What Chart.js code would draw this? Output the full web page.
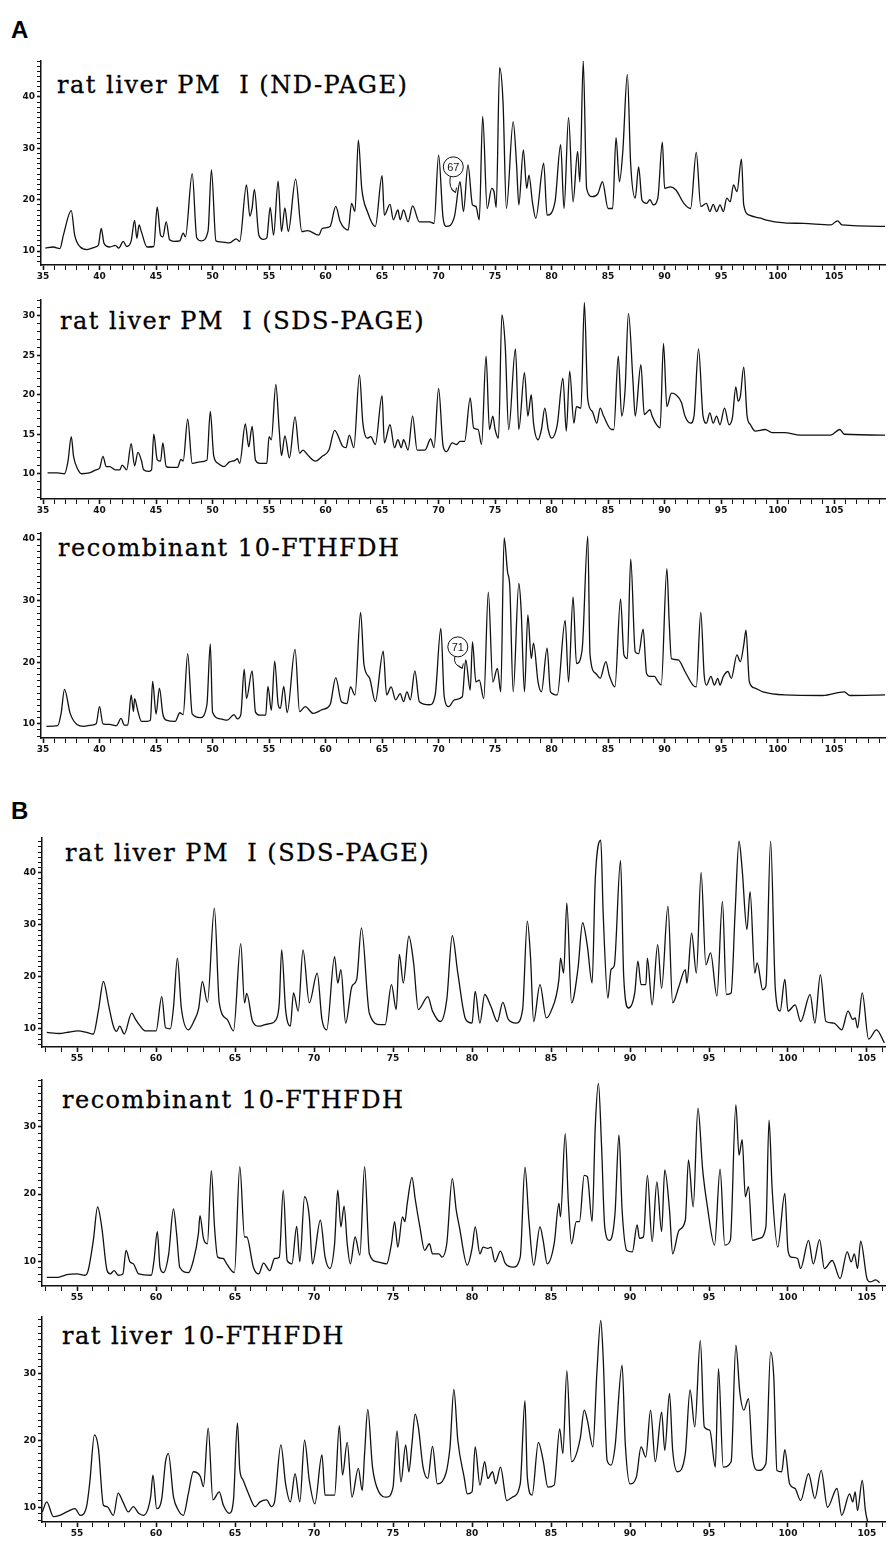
<!DOCTYPE html>
<html>
<head>
<meta charset="utf-8">
<script src="https://cdn.jsdelivr.net/npm/chart.js@4.4.0/dist/chart.umd.min.js"></script>
<style>
  body { margin: 0; background: #fff; width: 888px; height: 1544px; position: relative; overflow: hidden; }
  canvas { position: absolute; left: 0; }
  .tag { position: absolute; left: 11px; font: bold 24px "Liberation Sans", Arial, sans-serif; line-height: 1; }
  .title { position: absolute; font: 24px "DejaVu Serif", serif; letter-spacing: 1.5px; white-space: pre; line-height: 1; color: #000; -webkit-text-stroke: 0.3px #000; }
</style>
</head>
<body>
<div class="tag" style="top:18px">A</div>
<div class="tag" style="top:799px">B</div>

<div class="title" style="left:57px;top:73px">rat liver PM  I (ND-PAGE)</div>
<div class="title" style="left:60px;top:309px">rat liver PM  I (SDS-PAGE)</div>
<div class="title" style="left:58px;top:536px">recombinant 10-FTHFDH</div>
<div class="title" style="left:65px;top:841px">rat liver PM  I (SDS-PAGE)</div>
<div class="title" style="left:62px;top:1088px">recombinant 10-FTHFDH</div>
<div class="title" style="left:62px;top:1324px">rat liver 10-FTHFDH</div>

<canvas id="a1" width="888" height="236" style="top:53px"></canvas>
<canvas id="a2" width="888" height="231" style="top:292px"></canvas>
<canvas id="a3" width="888" height="237" style="top:525px"></canvas>
<canvas id="b1" width="888" height="241" style="top:830px"></canvas>
<canvas id="b2" width="888" height="238" style="top:1072px"></canvas>
<canvas id="b3" width="888" height="237" style="top:1309px"></canvas>

<script>
// A: rat liver PM I (ND-PAGE)
const a1X = [35.2,35.9,36.5,36.8,37.5,37.8,38.3,38.9,39.6,39.9,40.15,40.4,40.9,41.4,41.7,42.1,42.4,42.8,43.1,43.3,43.5,43.7,44.2,44.8,45.1,45.4,45.6,45.9,46.2,46.6,47.1,47.4,47.6,48.2,48.6,49.0,49.6,49.9,50.3,50.7,51.5,52.1,52.4,53.0,53.3,53.5,53.7,54.1,54.5,54.8,55.1,55.4,55.8,56.1,56.4,56.7,57.35,57.9,58.4,59.4,59.7,60.4,60.9,61.3,62.0,62.3,62.6,62.9,63.2,63.7,64.4,65.0,65.2,65.7,66.0,66.4,66.6,66.9,67.3,67.7,68.3,69.2,69.6,70.0,70.4,70.7,71.4,71.9,72.2,72.6,73.0,73.3,73.6,73.9,74.3,74.7,74.9,75.1,75.4,75.7,76.0,76.6,76.9,77.1,77.5,77.8,78.0,78.3,78.6,79.3,79.6,80.3,80.8,81.1,81.5,81.9,82.3,82.5,82.8,83.1,83.6,84.1,84.5,85.0,85.4,85.7,86.0,86.3,86.7,87.0,87.4,87.7,88.0,88.4,88.7,89.0,89.4,89.8,90.0,90.5,91.0,91.7,92.3,92.8,93.2,93.7,94.0,94.3,94.6,94.9,95.2,95.5,95.8,96.1,96.4,96.8,97.0,97.5,98.5,98.9,100.6,102.3,104.7,105.3,105.7,109.5];
const a1Y = [10.6,10.8,10.5,13.1,17.9,13.1,10.8,10.3,10.8,11.2,14.4,11.5,10.8,11.1,10.6,11.9,10.9,12.0,16.0,12.5,15.1,13.8,10.8,10.9,18.6,13.1,12.8,15.7,12.2,11.9,12.0,13.5,12.8,25.1,12.6,12.0,13.9,25.8,12.0,11.8,11.6,12.4,11.9,22.9,16.8,18.4,22.0,13.1,12.3,12.6,18.5,13.1,23.6,13.8,18.4,13.8,24.0,13.8,14.0,13.1,14.4,14.8,18.7,15.7,14.1,19.3,17.7,31.6,22.2,17.7,14.8,24.7,17.0,19.1,16.1,18.0,16.1,18.0,15.7,18.8,15.7,15.7,15.4,28.7,16.4,14.8,16.7,23.5,17.7,26.8,19.0,18.7,16.1,36.2,18.3,22.2,21.6,18.5,45.7,39.1,18.3,35.2,26.8,19.0,29.7,22.2,24.8,19.6,16.4,27.1,17.0,19.6,30.7,18.3,36.0,19.6,29.4,23.5,47.0,22.2,20.6,21.2,23.5,18.3,18.3,32.1,23.5,29.4,44.4,26.8,20.3,26.4,19.9,19.3,20.0,19.0,20.3,31.2,22.2,22.5,21.9,19.3,18.3,29.2,18.7,19.3,17.7,19.1,17.7,19.0,17.7,20.3,19.6,22.9,21.6,27.9,19.0,17.0,16.4,16.1,15.5,15.4,15.1,15.9,15.1,14.8];

// A: rat liver PM I (SDS-PAGE)
const a2X = [35.4,36.3,36.9,37.2,37.5,37.7,38.1,38.4,39.1,39.7,40.0,40.3,40.6,40.9,41.4,41.8,42.0,42.4,42.8,43.1,43.4,43.7,43.9,44.3,44.6,44.8,45.1,45.4,45.6,45.9,46.3,46.9,47.2,47.4,47.8,48.2,48.9,49.5,49.8,50.1,50.5,51.0,51.5,52.0,52.2,52.4,52.9,53.2,53.5,53.8,54.2,54.8,55.0,55.2,55.6,55.9,56.1,56.4,56.8,57.3,57.7,58.0,58.4,59.1,59.7,60.3,60.8,61.5,61.8,62.1,62.5,63.0,63.3,63.7,64.0,64.4,65.0,65.2,65.7,66.1,66.4,66.7,66.9,67.3,67.7,68.1,68.8,69.3,69.6,70.0,70.4,70.7,71.2,71.6,71.9,72.3,72.8,73.1,73.5,73.8,74.2,74.5,74.8,75.0,75.3,75.6,75.9,76.2,76.8,77.1,77.6,77.9,78.2,78.4,78.8,79.1,79.4,79.7,80.0,80.5,81.0,81.3,81.6,81.97,82.2,82.6,82.9,83.2,83.6,84.0,84.3,84.6,85.3,85.5,85.9,86.2,86.5,86.8,87.2,87.4,87.9,88.2,88.7,88.9,89.2,89.6,89.9,90.2,90.6,91.0,91.5,91.8,92.3,92.6,93.0,93.4,93.7,94.0,94.3,94.6,94.9,95.3,95.7,96.0,96.3,96.5,96.7,97.0,97.3,97.6,98.0,98.9,99.5,100.6,102.0,104.7,105.5,105.9,109.5];
const a2Y = [10.1,10.1,10.0,11.5,14.7,12.2,10.5,10.0,10.1,10.5,10.7,12.2,10.9,10.9,10.5,10.5,11.1,10.5,13.8,11.0,12.7,11.7,10.5,10.3,10.5,15.0,11.8,11.6,13.9,10.9,10.8,10.8,11.8,11.6,16.9,11.3,11.5,11.7,17.9,12.3,11.3,10.9,11.5,11.7,11.9,11.3,16.3,13.4,16.0,11.7,11.3,11.3,14.7,14.3,21.3,15.5,12.3,14.8,12.0,17.2,12.6,13.0,12.4,11.6,12.2,13.0,15.5,13.5,13.3,14.9,13.3,22.5,16.4,14.5,14.7,13.7,19.9,13.9,16.2,13.3,14.3,13.3,14.3,13.0,17.3,13.0,13.0,14.4,13.3,20.8,13.5,12.8,13.9,13.7,14.1,14.1,19.6,15.8,15.6,13.7,24.9,15.6,17.3,15.6,14.5,30.1,26.1,15.6,25.8,15.6,22.8,17.3,20.0,16.4,14.3,15.6,18.3,15.6,14.5,16.2,22.1,15.4,23.0,16.4,18.5,18.3,31.7,19.4,17.9,16.4,18.3,17.3,15.6,15.6,24.9,17.3,20.6,30.3,21.7,17.3,23.8,17.5,18.1,17.3,16.4,15.8,26.5,18.5,20.2,20.0,19.0,17.3,16.4,17.3,25.8,17.3,16.4,17.7,16.4,17.3,16.2,18.3,16.2,17.1,21.0,19.2,19.8,23.5,17.3,16.2,15.4,15.6,15.2,15.2,14.9,14.9,15.6,15.0,14.9];

// A: recombinant 10-FTHFDH
const a3X = [35.3,36.3,36.6,36.9,37.4,38.0,38.6,39.3,39.7,40.0,40.3,40.9,41.5,41.9,42.2,42.5,42.8,43.0,43.1,43.4,43.7,44.2,44.5,44.7,45.0,45.3,45.6,45.9,46.7,47.1,47.4,47.8,48.2,48.9,49.5,49.8,50.0,50.7,51.3,51.9,52.2,52.5,52.8,53.0,53.5,53.8,54.2,54.7,54.9,55.2,55.5,55.8,56.0,56.3,56.6,57.3,57.7,58.2,58.9,59.7,60.4,60.9,61.4,61.9,62.2,62.6,63.1,63.4,63.9,64.4,65.1,65.4,65.8,66.2,66.6,66.9,67.2,67.5,67.9,68.3,69.2,69.7,70.2,70.5,70.9,71.4,72.1,72.4,72.8,73.0,73.3,73.6,74.0,74.4,74.8,75.2,75.5,75.8,76.1,76.3,76.6,77.1,77.3,77.6,77.9,78.2,78.4,78.8,79.1,79.6,79.9,80.5,81.2,81.5,81.9,82.2,82.7,83.2,83.4,83.9,84.3,84.8,85.1,85.6,86.1,86.4,86.7,87.0,87.4,87.7,88.1,88.4,88.7,89.1,89.4,89.7,90.2,90.4,90.6,91.2,91.8,92.5,92.8,93.2,93.5,93.7,94.1,94.4,94.7,94.9,95.2,95.6,95.9,96.4,96.7,97.0,97.2,97.5,98.0,98.7,100.6,104.0,105.9,106.4,109.5];
const a3Y = [9.6,9.7,11.7,15.6,11.7,9.9,9.6,9.8,10.0,12.8,10.0,9.9,9.7,10.9,9.8,9.8,14.7,12.0,14.1,12.0,10.4,10.4,10.6,16.9,11.6,15.8,11.6,10.6,10.4,11.8,11.5,21.4,11.6,11.0,13.1,23.0,11.9,10.8,10.6,11.5,10.8,11.5,18.9,14.1,18.6,11.9,11.4,11.4,16.1,12.2,20.2,13.2,12.5,16.1,11.8,22.1,12.0,12.8,11.7,12.3,13.1,17.5,13.6,13.3,16.0,14.7,28.1,19.6,17.4,13.6,21.8,14.7,16.0,13.9,14.9,13.6,15.2,13.9,18.6,13.6,13.1,14.7,25.5,14.4,12.8,13.9,14.4,20.4,15.5,23.3,16.8,17.1,14.1,31.4,16.8,19.0,15.2,40.2,34.7,32.3,15.2,32.8,28.7,15.2,27.7,20.6,23.1,16.8,15.2,22.3,15.2,14.7,26.8,16.8,30.6,19.8,22.0,40.5,21.2,18.2,17.4,20.1,17.9,16.0,30.3,21.2,20.6,36.8,21.7,21.4,25.4,18.2,17.7,17.7,16.9,16.3,35.2,26.8,20.6,20.4,18.5,16.3,16.0,28.1,17.9,16.3,17.7,16.3,17.4,16.3,17.7,18.5,17.4,21.2,20.1,22.8,25.2,16.8,15.8,15.2,14.7,14.6,15.2,14.6,14.7];

// B: rat liver PM I (SDS-PAGE)
const b1X = [53.08,53.9,54.35,55.08,55.6,56.03,56.35,56.67,57.0,57.3,57.5,57.7,57.98,58.46,58.7,59.0,59.3,60.0,60.36,60.6,60.9,61.1,61.35,61.6,62.05,62.4,62.7,62.93,63.25,63.69,64.0,64.5,64.9,65.36,65.6,65.74,66.1,66.5,66.9,67.2,67.6,67.8,67.95,68.2,68.5,68.7,69.0,69.3,69.7,70.2,70.5,70.8,71.3,71.5,71.7,72.0,72.4,72.7,73.0,73.5,74.2,74.5,74.9,75.2,75.4,75.65,76.0,76.3,76.6,77.2,77.5,78.0,78.4,78.75,79.1,79.6,80.0,80.2,80.5,80.8,81.2,81.6,81.95,82.3,82.8,83.2,83.5,83.7,83.9,84.3,84.7,85.0,85.5,85.6,85.8,86.0,86.3,86.7,87.0,87.3,87.6,87.8,88.15,88.3,88.6,88.8,89.0,89.4,89.6,89.9,90.3,90.5,90.7,91.0,91.1,91.4,91.75,92.0,92.4,92.7,93.1,93.5,93.6,93.9,94.2,94.5,94.8,95.1,95.5,95.85,96.1,96.4,96.65,96.9,97.1,97.4,97.6,97.9,98.05,98.4,98.6,98.9,99.2,99.5,99.8,100.0,100.45,100.8,101.4,101.7,102.05,102.4,102.9,103.4,103.8,104.1,104.25,104.4,104.7,105.1,105.6,106.1];
const b1Y = [9.3,9.1,9.3,9.6,9.3,9.0,13.5,19.1,14.5,10.5,9.5,10.5,9.0,13.0,11.8,10.5,9.6,9.6,16.2,10.2,10.0,14.0,23.6,14.0,9.8,11.5,14.0,19.1,15.1,33.2,15.0,11.8,9.6,26.4,15.0,16.8,11.5,10.5,10.8,11.0,11.8,15.0,25.2,13.7,10.5,16.9,13.4,25.2,15.0,20.7,11.8,9.8,23.9,18.8,21.4,11.1,18.2,19.5,29.4,13.0,10.8,10.8,18.5,13.7,24.3,18.8,27.8,22.7,13.7,16.2,13.4,11.4,15.6,27.9,20.7,11.8,11.1,17.2,11.1,16.6,14.3,11.4,15.1,11.8,11.1,13.7,30.7,23.9,11.4,18.5,12.1,13.4,19.5,23.6,20.7,34.2,15.0,21.4,30.4,25.9,18.8,38.7,46.3,32.3,15.9,21.4,22.1,42.4,20.1,14.0,16.9,23.0,18.5,18.5,23.6,14.6,26.2,17.8,33.6,15.0,18.2,21.4,18.8,28.4,20.7,40.1,22.3,24.6,16.3,34.5,16.6,16.9,32.3,46.1,40.6,29.1,36.4,20.7,22.7,17.5,18.2,46.1,17.5,13.4,19.5,13.4,14.6,11.4,16.6,11.1,20.4,11.4,11.1,9.8,13.4,11.8,12.1,10.2,16.9,8.0,9.8,7.3];

// B: recombinant 10-FTHFDH
const b2X = [53.08,53.8,54.35,55.0,55.5,55.7,56.03,56.3,56.56,56.9,57.1,57.35,57.6,57.9,58.1,58.35,58.57,58.9,59.7,59.87,60.08,60.25,60.46,60.8,61.1,61.3,61.5,62.05,62.36,62.68,62.78,63.0,63.25,63.5,63.7,63.9,64.26,64.47,64.96,65.3,65.6,65.74,66.16,66.5,66.8,67.2,67.5,67.8,68.05,68.3,68.6,68.9,69.1,69.4,69.7,69.9,70.4,70.7,71.0,71.3,71.5,71.7,71.9,72.1,72.3,72.6,72.9,73.2,73.5,74.0,74.6,74.9,75.1,75.3,75.6,75.75,75.9,76.2,76.4,76.7,77.0,77.3,77.5,77.9,78.1,78.4,78.75,79.0,79.2,79.7,80.0,80.2,80.5,80.7,81.0,81.2,81.45,81.8,82.1,82.6,83.05,83.35,83.6,83.9,84.3,84.5,84.76,85.2,85.5,85.6,85.9,86.1,86.3,86.6,86.8,87.1,87.3,87.6,87.8,88.0,88.2,88.4,88.7,89.05,89.3,89.5,89.8,90.15,90.45,90.6,90.85,91.1,91.4,91.7,92.0,92.2,92.5,92.7,93.1,93.5,93.7,94.0,94.3,94.6,94.9,95.35,95.7,96.0,96.35,96.7,96.9,97.1,97.3,97.5,97.75,98.2,98.6,98.8,99.0,99.35,99.8,100.0,100.2,100.6,100.8,101.3,101.6,102.0,102.3,102.8,103.3,103.75,104.0,104.2,104.4,104.6,105.0,105.2,105.55,105.8];
const b2Y = [7.6,7.6,8.0,8.1,7.9,8.6,13.1,18.1,15.1,8.6,8.1,8.6,7.9,8.1,11.6,9.9,9.6,8.1,7.9,10.1,14.4,9.1,8.3,11.1,17.8,14.1,9.1,8.3,10.1,14.1,16.8,13.4,12.6,23.5,15.1,10.6,10.4,9.6,8.3,24.1,13.6,13.6,9.1,8.1,9.7,8.6,10.4,10.6,20.6,10.1,9.6,15.2,9.9,19.6,16.6,9.6,16.1,10.6,8.9,12.6,20.6,15.1,18.2,12.6,9.6,13.6,10.9,24.1,11.1,9.9,9.6,12.6,15.9,12.1,16.6,15.9,18.6,22.5,19.3,15.1,11.6,12.6,11.1,11.1,10.6,12.6,22.3,17.6,15.1,9.4,11.9,15.1,11.1,12.1,11.9,12.1,9.9,11.5,9.7,9.1,10.6,24.0,16.1,9.4,15.1,13.1,9.6,12.6,18.6,16.6,29.0,18.6,12.6,15.9,15.9,22.8,22.6,15.9,30.0,36.5,27.1,15.1,13.1,17.1,28.8,17.6,11.6,11.4,15.4,13.4,13.6,22.8,12.9,21.8,14.4,23.6,17.6,11.1,14.6,16.1,25.1,18.1,32.8,23.6,18.1,12.4,23.7,12.4,13.1,33.3,25.8,28.1,19.6,21.1,13.1,13.4,15.1,31.0,20.6,12.1,20.1,11.6,10.6,10.4,8.9,13.1,9.6,13.2,8.9,10.1,7.4,11.4,9.9,11.1,8.9,13.0,7.4,6.9,7.2,6.8];

// B: rat liver 10-FTHFDH
const b3X = [52.8,53.08,53.5,53.9,54.35,54.87,55.2,55.6,55.8,56.1,56.35,56.67,56.9,57.3,57.6,57.9,58.25,58.56,58.9,59.2,59.66,59.8,60.04,60.36,60.6,60.78,61.1,61.4,61.73,62.05,62.36,62.8,63.0,63.3,63.6,64.0,64.26,64.64,64.9,65.15,65.3,65.5,65.84,66.27,66.58,67.0,67.3,67.5,67.9,68.2,68.5,68.8,69.1,69.4,69.7,70.05,70.5,70.7,71.3,71.6,71.8,72.1,72.4,72.8,73.05,73.2,73.4,73.7,74.1,74.6,75.0,75.25,75.5,75.8,76.0,76.2,76.4,76.6,76.9,77.2,77.5,77.8,78.1,78.6,78.85,79.1,79.5,79.7,80.0,80.2,80.5,80.8,81.0,81.3,81.5,81.8,82.2,82.55,83.05,83.35,83.5,83.8,84.2,84.5,84.8,85.2,85.55,85.75,86.0,86.3,86.85,87.1,87.3,87.65,87.9,88.15,88.3,88.55,88.8,89.05,89.5,89.7,90.0,90.4,90.7,91.0,91.3,91.6,92.0,92.2,92.5,92.7,93.0,93.5,93.8,94.1,94.45,94.7,95.05,95.4,95.6,95.9,96.4,96.7,96.95,97.2,97.5,97.75,98.1,98.6,98.9,99.1,99.3,99.6,99.8,100.1,100.45,100.8,101.3,101.7,102.1,102.5,103.1,103.4,103.9,104.1,104.25,104.4,104.7,104.9,105.1];
const b3Y = [9.3,10.8,8.6,8.8,9.3,9.8,8.8,10.1,13.6,20.8,18.8,10.3,10.1,8.8,12.1,10.8,9.3,10.1,9.1,8.8,11.6,14.8,9.8,11.3,16.8,18.0,11.6,9.6,8.8,12.1,15.3,14.6,13.1,21.8,11.1,12.3,10.3,9.1,11.1,22.6,15.6,14.1,12.1,10.1,10.8,11.1,10.1,10.8,19.3,13.5,10.8,15.0,10.8,20.0,14.0,10.5,17.8,11.8,11.8,22.2,14.8,19.7,11.5,15.8,12.5,18.0,24.6,16.0,12.3,11.5,13.0,21.4,13.8,19.3,15.3,19.5,23.9,22.0,16.0,14.3,19.1,13.5,13.8,18.8,27.6,20.0,14.5,12.0,12.3,19.0,13.3,16.8,14.3,15.3,13.5,16.0,11.0,11.5,13.5,25.9,14.5,11.8,19.7,17.0,13.0,13.3,21.7,18.0,30.4,16.8,20.3,24.5,23.0,19.0,30.0,37.9,32.4,17.0,16.3,19.0,31.2,19.5,13.5,14.5,19.0,17.5,24.5,16.8,24.2,18.5,27.0,18.5,15.3,18.0,27.5,22.0,34.9,22.0,21.5,16.0,30.7,16.0,16.8,34.2,27.2,24.5,26.2,17.5,15.5,16.5,33.2,29.4,15.5,15.3,18.6,13.5,12.8,11.0,15.0,11.3,15.5,10.0,12.8,8.8,12.0,10.8,12.3,9.5,14.0,9.5,7.3];

// circled peak numbers (label, circle x/y, arrow tip x/y) in data units
const a1Notes = [['67', 71.3, 26.4, 71.5, 21.4]];
const a3Notes = [['71', 71.7, 22.5, 72.1, 19.0]];

const tickFont = { family: 'DejaVu Sans', size: 9, weight: 'bold' };

const notePlugin = {
  id: 'notes',
  afterDatasetsDraw(chart, args, opts) {
    const notes = opts.items || [];
    const { ctx, scales: { x, y } } = chart;
    notes.forEach(([label, cx, cy, tx, ty]) => {
      const px = x.getPixelForValue(cx), py = y.getPixelForValue(cy);
      const qx = x.getPixelForValue(tx), qy = y.getPixelForValue(ty);
      const r = 10;
      ctx.save();
      ctx.strokeStyle = '#111';
      ctx.fillStyle = '#fff';
      ctx.lineWidth = 1;
      ctx.beginPath();
      ctx.arc(px, py, r, 0, Math.PI * 2);
      ctx.fill();
      ctx.stroke();
      ctx.fillStyle = '#111';
      ctx.font = '11px "Liberation Sans", Arial, sans-serif';
      ctx.textAlign = 'center';
      ctx.textBaseline = 'middle';
      ctx.fillText(label, px, py + 1);
      // little curved arrow down to the peak
      ctx.beginPath();
      ctx.moveTo(px - 3, py + r);
      ctx.quadraticCurveTo(px - 5, qy - 4, qx, qy);
      ctx.stroke();
      ctx.beginPath();
      ctx.moveTo(qx - 4, qy - 3);
      ctx.lineTo(qx, qy);
      ctx.lineTo(qx + 1, qy - 5);
      ctx.stroke();
      ctx.restore();
    });
  }
};

function makePanel(id, xs, ys, xMin, xMax, yMin, yMax, yStep, yAxisWidth, notes) {
  const points = xs.map((v, i) => ({ x: v, y: ys[i] }));
  return new Chart(document.getElementById(id), {
    type: 'line',
    data: {
      datasets: [{
        data: points,
        borderColor: '#111',
        borderWidth: 1.3,
        pointRadius: 0,
        cubicInterpolationMode: 'monotone',
        fill: false
      }]
    },
    options: {
      responsive: false,
      animation: false,
      events: [],
      layout: { padding: { top: 8, right: 3, left: 0, bottom: 0 } },
      plugins: {
        legend: { display: false },
        tooltip: { enabled: false },
        notes: { items: notes }
      },
      scales: {
        x: {
          type: 'linear',
          min: xMin,
          max: xMax,
          afterFit: (s) => { s.height = 24; },
          border: { display: true, color: '#111', width: 1.5 },
          grid: {
            drawOnChartArea: false,
            drawTicks: true,
            tickLength: 5,
            tickColor: '#111',
            tickWidth: (c) => (c.tick && c.tick.value % 5 === 0 ? 1.6 : 1)
          },
          ticks: {
            stepSize: 1,
            autoSkip: false,
            includeBounds: false,
            maxRotation: 0,
            padding: 1,
            color: '#111',
            font: tickFont,
            callback: (v) => (v % 5 === 0 ? String(v) : '')
          }
        },
        y: {
          min: yMin,
          max: yMax,
          afterFit: (s) => { s.width = yAxisWidth; },
          border: { display: true, color: '#111', width: 1.5 },
          grid: {
            drawOnChartArea: false,
            drawTicks: true,
            tickLength: 4,
            tickColor: '#111',
            tickWidth: (c) => (c.tick && c.tick.value % yStep === 0 ? 1.6 : 1)
          },
          ticks: {
            stepSize: 1,
            autoSkip: false,
            includeBounds: false,
            padding: 2,
            color: '#111',
            font: tickFont,
            callback: (v) => (v % yStep === 0 ? String(v) : '')
          }
        }
      }
    },
    plugins: [notePlugin]
  });
}

makePanel('a1', a1X, a1Y, 34.82, 109.5, 7.3, 47, 10, 41, a1Notes);
makePanel('a2', a2X, a2Y, 34.82, 109.5, 6.8, 32, 5, 41, []);
makePanel('a3', a3X, a3Y, 34.82, 109.5, 7.7, 41, 10, 41, a3Notes);
makePanel('b1', b1X, b1Y, 52.78, 106.14, 6.5, 46.7, 10, 42, []);
makePanel('b2', b2X, b2Y, 52.78, 106.14, 6.3, 37, 10, 42, []);
makePanel('b3', b3X, b3Y, 52.78, 106.14, 7.8, 38.4, 10, 42, []);
</script>
</body>
</html>
